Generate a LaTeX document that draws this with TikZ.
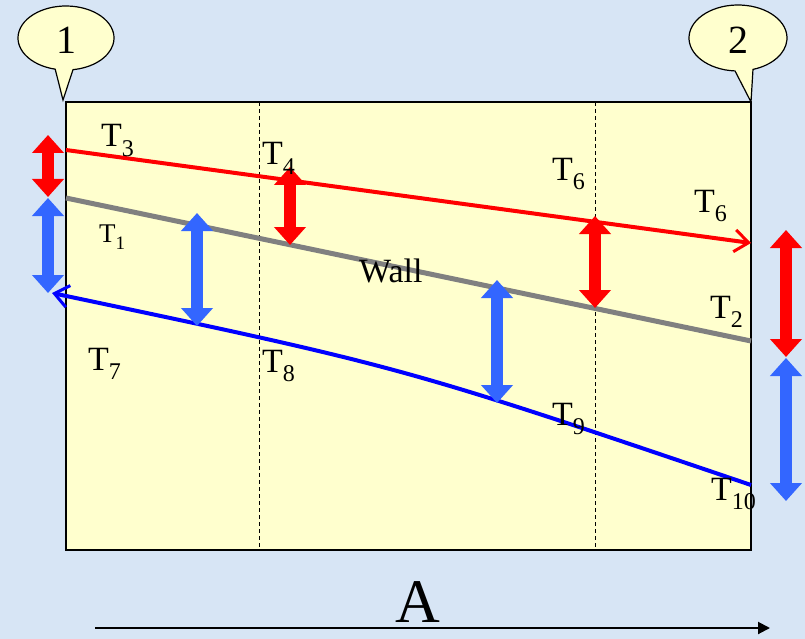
\documentclass[tikz,border=0pt]{standalone}
\usepackage{fontspec}
\setmainfont{Liberation Serif}
\usetikzlibrary{arrows.meta}
\definecolor{bgblue}{RGB}{215,229,245}
\definecolor{paleyellow}{RGB}{255,255,206}
\definecolor{arrblue}{RGB}{51,102,255}
\definecolor{arrred}{RGB}{255,0,0}
\definecolor{wallgray}{RGB}{128,128,128}
\newcommand\Tl[2]{T\raisebox{-0.28em}{\fontsize{#2}{#2}\selectfont #1}}
\tikzset{
  lbl/.style={anchor=base west, inner sep=0pt, font=\fontsize{34}{34}\selectfont},
  lblsmall/.style={anchor=base west, inner sep=0pt, font=\fontsize{27}{27}\selectfont},
  dbl/.style={line width=12pt, draw=#1,
    arrows={Triangle[width=31pt,length=18pt]-Triangle[width=31pt,length=18pt]}},
  callout/.style={draw=black, line width=1.2pt, fill=paleyellow},
  thinline/.style={line width=4pt}
}
\begin{document}
\begin{tikzpicture}[x=1pt,y=-1pt]
\useasboundingbox (0,0) rectangle (805,639);
\fill[bgblue] (0,0) rectangle (805,639);
% wall rectangle
\draw[fill=paleyellow, line width=1.5pt] (66,102) rectangle (751,550);
\draw[dashed, dash pattern=on 4pt off 3pt, line width=0.9pt] (259,102) -- (259,550);
\draw[dashed, dash pattern=on 4pt off 3pt, line width=0.9pt] (595,102) -- (595,550);
% callouts
\draw[callout] (66,38) ++(103:48 and 32) arc[start angle=103, end angle=441.6, x radius=48, y radius=32] -- (63,100) -- cycle;
\node[font=\fontsize{40}{40}\selectfont] (c1) at (66,40) {1};
\draw[callout] (738,38) ++(93.5:49 and 33) arc[start angle=93.5, end angle=432.2, x radius=49, y radius=33] -- (751,102) -- cycle;
\node[font=\fontsize{40}{40}\selectfont] (c2) at (738,40) {2};
% line endpoints
\coordinate (r1) at (66,150);
\coordinate (r2) at (751,243);
\coordinate (g1) at (66,198);
\coordinate (g2) at (751,341);
\coordinate (b1) at (751,485);
\coordinate (b2) at (52,293);
\coordinate (bc) at (403,367);
\draw[wallgray, line width=5pt] (g1) -- (g2);
\draw[arrred, thinline, -{Straight Barb[length=14pt,width=22pt,line width=3pt]}] (r1) -- (r2);
\draw[blue, thinline, -{Straight Barb[length=14pt,width=22pt,line width=3pt]}] (b1) .. controls (bc) .. (b2);
% double arrows
\coordinate (a1t) at (48,135); \coordinate (a1b) at (48,197);
\coordinate (a2t) at (48,198); \coordinate (a2b) at (48,293);
\coordinate (a3t) at (290,167); \coordinate (a3b) at (290,245);
\coordinate (a4t) at (197,213); \coordinate (a4b) at (197,326);
\coordinate (a5t) at (497,280); \coordinate (a5b) at (497,403);
\coordinate (a6t) at (595,216); \coordinate (a6b) at (595,308);
\coordinate (a7t) at (786,230); \coordinate (a7b) at (786,357);
\coordinate (a8t) at (786,358); \coordinate (a8b) at (786,501);
\draw[dbl=arrred] (a1t) -- (a1b);
\draw[dbl=arrblue] (a2t) -- (a2b);
\draw[dbl=arrred] (a3t) -- (a3b);
\draw[dbl=arrblue] (a4t) -- (a4b);
\draw[dbl=arrblue] (a5t) -- (a5b);
\draw[dbl=arrred] (a6t) -- (a6b);
\draw[dbl=arrred] (a7t) -- (a7b);
\draw[dbl=arrblue] (a8t) -- (a8b);
% labels
\node[lbl] (t3) at (101,147) {\Tl{3}{24}};
\node[lbl] (t4) at (262,165) {\Tl{4}{24}};
\node[lbl] (t6a) at (552,180) {\Tl{6}{24}};
\node[lbl] (t6b) at (694,212) {\Tl{6}{24}};
\node[lblsmall] (t1) at (99,242) {\Tl{1}{19}};
\node[lbl] (wall) at (359,282) {Wall};
\node[lbl] (t2) at (710,318) {\Tl{2}{24}};
\node[lbl] (t7) at (88,370) {\Tl{7}{24}};
\node[lbl] (t8) at (262,372) {\Tl{8}{24}};
\node[lbl] (t9) at (552,425) {\Tl{9}{24}};
\node[lbl] (t10) at (711,500) {\Tl{10}{24}};
% axis
\coordinate (ax1) at (95,628);
\coordinate (ax2) at (770,628);
\draw[line width=2pt, -{Triangle[length=12pt,width=12pt]}] (ax1) -- (ax2);
\node[anchor=base, inner sep=0pt, font=\fontsize{62}{62}\selectfont] (A) at (418,622) {A};
\end{tikzpicture}
\end{document}
